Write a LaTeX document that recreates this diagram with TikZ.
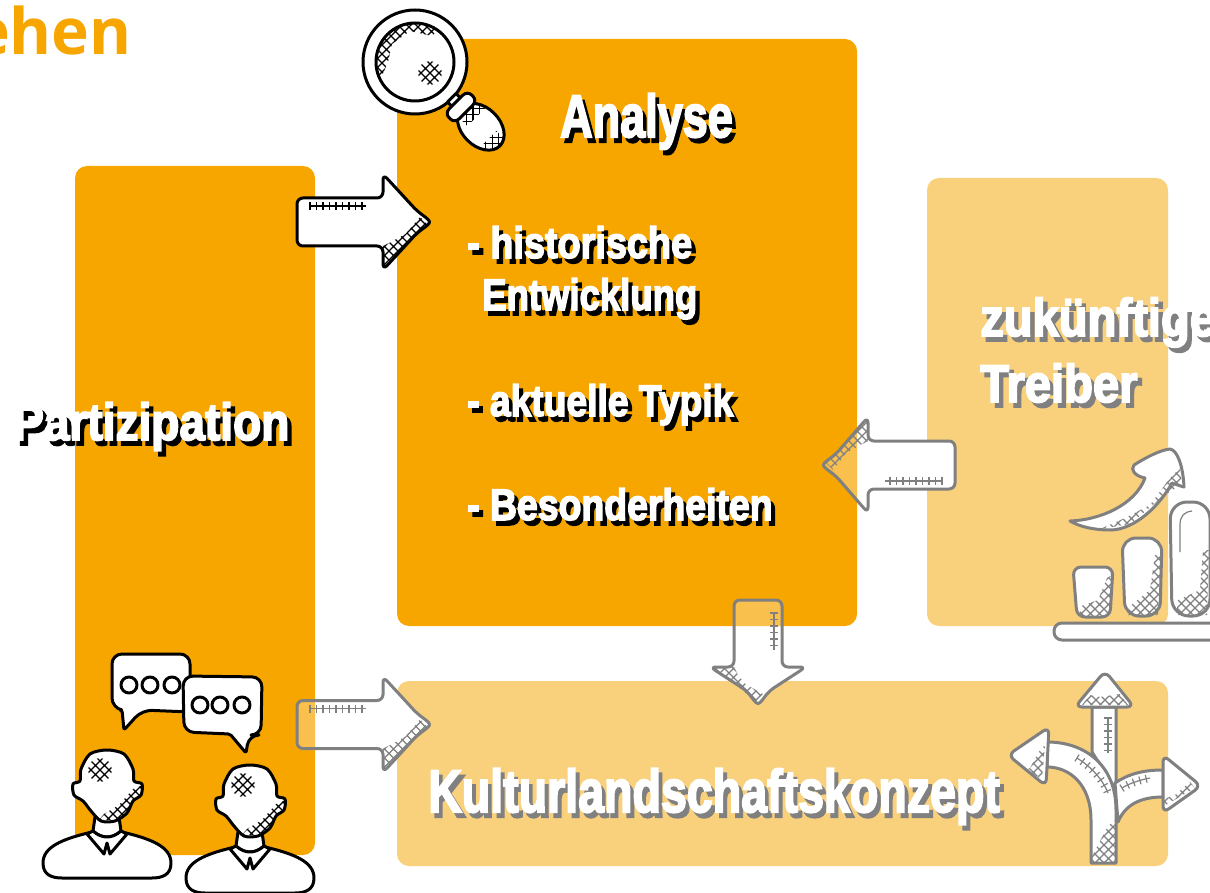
\documentclass[tikz,border=0pt]{standalone}
\usepackage{fontspec}
\usepackage{graphicx}
\usetikzlibrary{decorations.markings}
\newfontfamily\bannerfont[BoldFeatures={FakeBold=3.5}]{Liberation Sans}
\newfontfamily\titlefont{Open Sans}
\definecolor{mainorange}{HTML}{F7A600}
\definecolor{paleorange}{HTML}{F9D07C}
\definecolor{sketchgray}{HTML}{808080}
\newcommand\banner[3][black]{\scalebox{#2}[1]{\rlap{\kern5pt\raisebox{-5pt}{\textcolor{#1}{#3}}}#3}}
\newcommand\crosshatch[3]{%
  \begin{scope}
    \clip #3;
    \draw[hatchline] foreach \d in {-72,-63,...,72} {(#1+\d-72,#2-72) -- ++(144,144) (#1+\d-72,#2+72) -- ++(144,-144)};
  \end{scope}}
\newcommand\arrowoutline[2]{(0,-24) -- (#1,-24) -- (#1,-48) -- (#1+#2-11,-11) .. controls (#1+#2+4,0) .. (#1+#2-11,11) -- (#1,48) -- (#1,24) -- (0,24) -- cycle}
\tikzset{
  sketchshape/.style={fill=white, draw, line width=3pt, line join=round},
  hatchline/.style={draw, line width=1.2pt},
  stitchline/.style={draw, line width=1.2pt, decoration={markings, mark=between positions 0 and 1 step 6.5pt with {\draw[line width=1.2pt] (0pt,-4pt) -- (0pt,4pt);}}, postaction={decorate}},
  mainbox/.style={fill=mainorange, rounded corners=12pt, inner sep=0pt, outer sep=0pt},
  palebox/.style={fill=paleorange, rounded corners=12pt, inner sep=0pt, outer sep=0pt},
  bannerlabel/.style 2 args={font=\bannerfont\bfseries\fontsize{#1}{#2}\selectfont, text=white, inner sep=0pt, align=left, anchor=base west},
  arrowbody/.style={},
  fadedicon/.style={color=sketchgray, arrowbody/.style={fill opacity=.3}},
  pics/blockbase/.style 2 args={code={\fill[white, rounded corners=6pt] \arrowoutline{#1}{#2};}},
  pics/blockarrow/.style 2 args={code={
    \draw[sketchshape, rounded corners=6pt, arrowbody] \arrowoutline{#1}{#2};
    \crosshatch{#1+15}{20}{(#1,45) -- (#1+#2-1,2) -- (#1+#2-8,-5) -- (#1+#2/2,12) -- (#1+8,20) -- (#1,24) -- cycle}
    \draw[stitchline] (13,-16) -- (#1-17,-16);
  }},
  pics/person/.style={code={
    \draw[sketchshape] (-15,45) .. controls (-45,52) and (-64,60) .. (-64,76) .. controls (-64,88) and (-55,91) .. (-45,91) -- (45,91) .. controls (55,91) and (64,88) .. (64,76) .. controls (64,60) and (45,52) .. (15,45) -- cycle;
    \draw[sketchshape] (-12,30) -- (-14,44) .. controls (-5,52) and (5,52) .. (14,44) -- (12,30) -- cycle;
    \draw[sketchshape] (-20,47) -- (-3,67) -- (0,56) -- (3,67) -- (20,47) -- (14,44) .. controls (5,52) and (-5,52) .. (-14,44) -- cycle;
    \draw[sketchshape] plot[smooth cycle] coordinates {(0,-37) (17,-33) (26,-18) (27,-6) (35,-3) (34,8) (26,14) (20,26) (8,34) (-6,34) (-16,24) (-24,14) (-33,8) (-34,-3) (-27,-6) (-26,-18) (-17,-33)};
    \crosshatch{-7}{-17}{(-7,-17) circle (12)}
    \crosshatch{15}{18}{(36,-2) -- (34,8) -- (26,15) -- (20,26) -- (8,33) -- (-8,33) -- (-3,27) -- (12,18) -- (26,2) -- cycle}
  }},
}
\begin{document}
\begin{tikzpicture}[x=1pt,y=-1pt]
  \clip (0,0) rectangle (1210,893);
  \node[palebox, minimum width=241pt, minimum height=448pt] (treiberbox) at (1047.5,402) {};
  \node[palebox, minimum width=771pt, minimum height=185pt] (konzeptbox) at (782.5,773.5) {};

  \pic (basekonzept) at (297,724.5) {blockbase={86}{45}};
  \pic[rotate=180] (basetreiber) at (955,465) {blockbase={87}{43}};
  \pic[rotate=-90] (baseanalyse) at (758,600) {blockbase={67}{35}};

  \node[mainbox, minimum width=240pt, minimum height=689pt] (partizipationbox) at (195,510.5) {};
  \node[mainbox, minimum width=460pt, minimum height=587pt] (analysebox) at (627,332.5) {};

  \pic[fadedicon] (arrowkonzept) at (297,724.5) {blockarrow={86}{45}};
  \pic[fadedicon, rotate=180] (arrowtreiber) at (955,465) {blockarrow={87}{43}};
  \pic[fadedicon, rotate=-90] (arrowanalyse) at (758,600) {blockarrow={67}{35}};
  \pic (arrowpartizipation) at (297,222) {blockarrow={86}{45}};

  \node[font=\titlefont\bfseries\fontsize{64}{64}\selectfont, text=mainorange, inner sep=0pt, anchor=base east] (title) at (132,55) {ehen};
  \node[bannerlabel={60}{60}] (analyse) at (560,137) {\banner{.75}{Analyse}};
  \node[bannerlabel={44}{52}] (historie) at (467,310) {\banner{.86}{- historische}\\\hspace*{15pt}\banner{.83}{Entwicklung}};
  \node[bannerlabel={44}{44}] (typik) at (467,416) {\banner{.846}{- aktuelle Typik}};
  \node[bannerlabel={44}{44}] (besonderheiten) at (467,520) {\banner{.85}{- Besonderheiten}};
  \node[bannerlabel={52}{52}] (partizipation) at (13,440) {\banner{.885}{Partizipation}};
  \node[bannerlabel={53}{66}] (treiber) at (980,402) {\banner[sketchgray]{.89}{zukünftige}\\\banner[sketchgray]{.89}{Treiber}};
  \node[bannerlabel={60}{60}] (konzept) at (428,812) {\banner[sketchgray]{.776}{Kulturlandschaftskonzept}};

  \draw[sketchshape] (415,62) circle (52);
  \draw[sketchshape] (415,62) circle (39);
  \begin{scope}
    \clip (415,62) circle (39);
    \crosshatch{400}{45}{(374,66) -- (384,32) -- (405,21) -- (440,28) -- (432,36) -- (410,31) -- (392,44) -- (388,62) -- (381,78) -- cycle}
  \end{scope}
  \crosshatch{430}{73}{(430,73) circle (12)}
  \begin{scope}[shift={(461,107)}, rotate=-45]
    \draw[sketchshape] (-13,-6) rectangle (-6,6);
    \draw[sketchshape] (28,0) ellipse (27 and 19);
    \begin{scope}
      \clip (28,0) ellipse (27 and 19);
      \crosshatch{14}{-3}{(5,-16) rectangle (18,9)}
      \crosshatch{48}{4}{(42,-8) rectangle (58,20)}
    \end{scope}
    \draw[sketchshape, rounded corners=6pt] (-7,-16) rectangle (7,16);
  \end{scope}

  \draw[sketchshape, rounded corners=10pt] (112,654) -- (190,654) -- (190,712) -- (142,710) [rounded corners=2pt] -- (124,730) -- (122,710) [rounded corners=10pt] -- (112,708) -- cycle;
  \foreach \cx/\n in {129/a,150/b,172/c}
    \draw[sketchshape] (\cx,685) circle (8);
  \draw[sketchshape, rounded corners=10pt] (183,676) -- (262,677) -- (261,735) -- (249,735) [rounded corners=2pt] -- (246,753) -- (230,734) [rounded corners=10pt] -- (184,732) -- cycle;
  \foreach \cx/\n in {200/a,220/b,242/c}
    \draw[sketchshape] (\cx,705) circle (8);

  \pic (personleft) at (107,787) {person};
  \pic (personright) at (250,802) {person};

  \begin{scope}[color=sketchgray]
    \draw[sketchshape, rounded corners=8pt] (1054,623) rectangle (1240,640);
    \draw[sketchshape, rounded corners=8pt] (1073,567) -- (1113,567) -- (1110,617) -- (1077,617) -- cycle;
    \crosshatch{1095}{600}{(1079,616) -- (1109,616) -- (1112,575) -- (1107,578) -- (1098,600) -- (1081,606) -- cycle}
    \draw[sketchshape, rounded corners=14pt] (1122,538) -- (1162,538) -- (1160,616) -- (1125,616) -- cycle;
    \crosshatch{1145}{590}{(1127,615) -- (1158,615) -- (1161,555) -- (1155,555) -- (1150,590) -- (1130,606) -- cycle}
    \draw[sketchshape, rounded corners=17pt] (1170,502) -- (1210,502) -- (1210,616) -- (1172,616) -- cycle;
    \crosshatch{1195}{590}{(1176,615) -- (1207,615) -- (1209,550) -- (1203,550) -- (1200,590) -- (1178,600) -- cycle}
    \draw[hatchline] (1180,552) -- (1180,525) .. controls (1180,516) and (1184,512) .. (1192,511);
    \draw[sketchshape] (1070,521) .. controls (1100,520) and (1135,505) .. (1145,478) .. controls (1135,476) and (1130,470) .. (1134,465) .. controls (1145,458) and (1160,450) .. (1170,449) .. controls (1177,450) and (1183,465) .. (1184,487) .. controls (1180,486) and (1175,484) .. (1172,483) .. controls (1160,505) and (1135,530) .. (1110,530) .. controls (1095,530) and (1080,527) .. (1070,521) -- cycle;
    \crosshatch{1145}{505}{(1100,529) -- (1130,524) -- (1165,495) -- (1182,484) -- (1180,468) -- (1170,478) -- (1150,505) -- (1125,518) -- cycle}

    \draw[sketchshape] (1092,752) -- (1092,707) -- (1116,707) -- (1116,790) -- cycle;
    \draw[sketchshape] (1115,783) .. controls (1130,773) and (1145,770) .. (1163,770) -- (1163,797) .. controls (1140,797) and (1125,805) .. (1118,822) -- cycle;
    \draw[sketchshape] (1047,742) .. controls (1085,742) and (1116,765) .. (1116,810) -- (1116,863) -- (1091,863) -- (1091,820) .. controls (1091,785) and (1070,767) .. (1047,767) -- cycle;
    \crosshatch{1104}{845}{(1092,862) -- (1115,862) -- (1115,820) -- (1108,826) -- (1092,856) -- cycle}
    \draw[sketchshape, rounded corners=7pt] (1105,671) -- (1075,707) -- (1134,707) -- cycle;
    \crosshatch{1105}{700}{(1082,705) -- (1128,705) -- (1120,694) -- (1100,697) -- (1090,695) -- cycle}
    \draw[sketchshape, rounded corners=7pt] (1049,727) -- (1008,755) -- (1046,786) -- cycle;
    \crosshatch{1038}{768}{(1042,779) -- (1045,745) -- (1040,750) -- (1030,768) -- (1026,770) -- cycle}
    \draw[sketchshape, rounded corners=7pt] (1163,755) -- (1201,786) -- (1163,813) -- cycle;
    \crosshatch{1178}{797}{(1164,806) -- (1195,788) -- (1190,782) -- (1175,795) -- (1164,799) -- cycle}
    \draw[stitchline] (1108,718) -- (1108,753);
    \draw[stitchline] (1077,758) .. controls (1090,766) and (1102,778) .. (1108,793);
    \draw[stitchline] (1122,788) .. controls (1130,783) and (1140,780) .. (1150,778);
  \end{scope}
\end{tikzpicture}
\end{document}
